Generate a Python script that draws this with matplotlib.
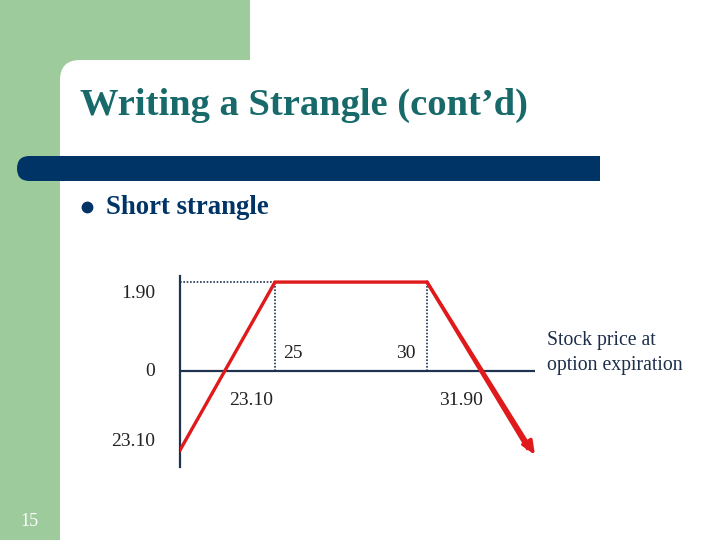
import matplotlib
matplotlib.use("Agg")
import matplotlib.pyplot as plt
from matplotlib.patches import Rectangle, FancyBboxPatch

# payoff of a short strangle (schematic, not to scale in y)
strikes = [25, 30]
premium = 1.90
breakevens = [23.10, 31.90]
payoff_x = [21.875, 25, 30, 33.55]
payoff_y = [-1.69, 1.90, 1.90, -1.79]

y_tick_labels = ["1.90", "0", "23.10"]
y_tick_pos = [1.90, 0, -1.5]

title = "Writing a Strangle (cont\u2019d)"
bullet_text = "Short strangle"
xlabel = "Stock price at\noption expiration"
page_no = "15"

GREEN = "#9dcb9b"
NAVY = "#003366"
TEAL = "#17696a"
AXCOL = "#1e3350"
RED = "#e0191b"
SERIF = ["Liberation Serif", "DejaVu Serif"]

fig = plt.figure(figsize=(7.2, 5.4), dpi=100)

# background layer in pixel coordinates (origin top-left)
bg = fig.add_axes([0, 0, 1, 1])
bg.set_xlim(0, 720)
bg.set_ylim(540, 0)
bg.axis("off")
bg.add_patch(Rectangle((0, 0), 60, 540, color=GREEN, lw=0))
bg.add_patch(Rectangle((0, 0), 250, 80, color=GREEN, lw=0))
bg.add_patch(FancyBboxPatch((60, 60), 800, 600, boxstyle="round,pad=0,rounding_size=20",
                            color="white", lw=0))
bg.add_patch(FancyBboxPatch((17, 156), 583, 25, boxstyle="round,pad=0,rounding_size=12.5",
                            color=NAVY, lw=0))
bg.add_patch(Rectangle((580, 156), 20, 25, color=NAVY, lw=0))

bg.text(80, 105, title, family=SERIF, fontsize=27.7, fontweight="bold", color=TEAL,
        ha="left", va="center")
bg.plot([87], [207], "o", color=NAVY, ms=7.5)
bg.text(106, 207, bullet_text, family=SERIF, fontsize=19.3, fontweight="bold", color=NAVY,
        ha="left", va="center")
bg.text(29, 522, page_no, family=SERIF, fontsize=13, color="white", ha="center", va="center")

# payoff diagram
ax = fig.add_axes([0.25, 1 - 467 / 540, 368.6 / 720, 191 / 540])
ax.set_xlim(21.875, 34.0)
ax.set_ylim(-2.05, 2.03)
ax.patch.set_alpha(0)
for s in ["top", "right", "bottom"]:
    ax.spines[s].set_visible(False)
ax.spines["left"].set_color(AXCOL)
ax.spines["left"].set_linewidth(1.6)
ax.set_xticks([])
ax.set_yticks([])

ax.hlines(0, 21.875, 33.55, color=AXCOL, lw=1.6)
ax.hlines(premium, 21.875, strikes[0], color=AXCOL, lw=1.2, linestyles=(0, (1, 1)))
ax.vlines(strikes, 0, premium, color=AXCOL, lw=1.2, linestyles=(0, (1, 1)))

ax.plot(payoff_x[:-1] + [payoff_x[-1] - 0.25], payoff_y[:-1] + [payoff_y[-1] + 0.14],
        color=RED, lw=2.4, solid_joinstyle="miter", zorder=4)
ax.annotate("", xy=(payoff_x[-1], payoff_y[-1]), xytext=(payoff_x[-2], payoff_y[-2]),
            arrowprops=dict(arrowstyle="-|>,head_length=0.8,head_width=0.35",
                            color=RED, lw=2.4, shrinkA=0, shrinkB=0), zorder=4)

tk = dict(family=SERIF, fontsize=14, color="#222222")
for lab, yv in zip(y_tick_labels, y_tick_pos):
    dy = -11 if yv == premium else 0
    ax.annotate(lab, xy=(0, yv), xycoords=("axes fraction", "data"), xytext=(-25, dy),
                textcoords="offset pixels", ha="right", va="center", **tk)
ax.annotate(f"{strikes[0]}", xy=(strikes[0], 0.38), xytext=(8, 0), textcoords="offset pixels",
            ha="left", va="center", **tk)
ax.annotate(f"{strikes[1]}", xy=(strikes[1], 0.38), xytext=(-11, 0), textcoords="offset pixels",
            ha="right", va="center", **tk)
for bev, dx in zip(breakevens, [34, -24]):
    ax.annotate(f"{bev:.2f}", xy=(bev, -0.62), xytext=(dx, 0), textcoords="offset pixels",
                ha="center", va="center", **tk)

bg.text(547, 353, xlabel, family=SERIF, fontsize=14.2, color="#1c2e4a", ha="left",
        va="center", linespacing=1.45)

fig.savefig("out.png", dpi=100)
